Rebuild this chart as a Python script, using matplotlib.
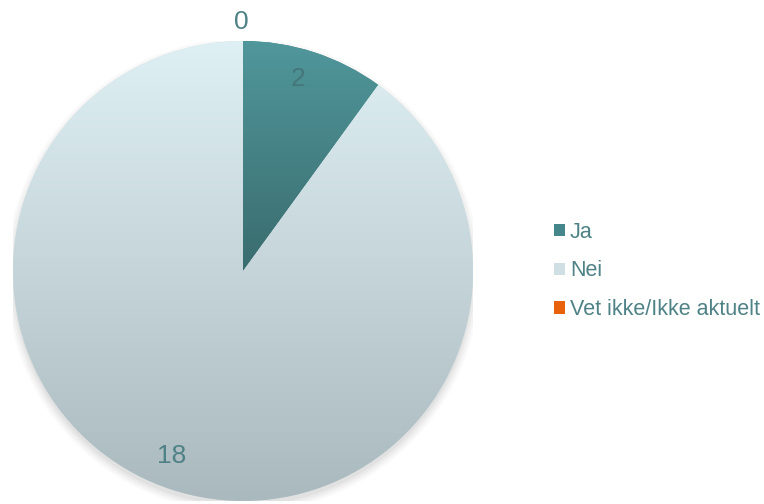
import numpy as np
import matplotlib.pyplot as plt
from matplotlib.patches import Circle, Patch
from matplotlib.colors import LinearSegmentedColormap

plt.rcParams['font.family'] = ['Liberation Sans', 'DejaVu Sans']

categories = ['Ja', 'Nei', 'Vet ikke/Ikke aktuelt']
values = [2, 18, 0]

# top / bottom colour of each slice's vertical gradient
grad_top = ['#50979b', '#dff0f4', '#ff7414']
grad_bot = ['#3a6c6e', '#aab9bd', '#c24a00']
legend_cols = ['#44868a', '#cfdfe3', '#e8620c']
text_col = '#4f8286'

# label placement (radial distance, angle nudge in degrees)
label_dist = [0.87, 0.86, 1.083]
label_nudge = [2, -3, 0.5]

fig = plt.figure(figsize=(7.64, 5.04), dpi=100)
# pie centre at (243, 271) px, radius 230 px
ax = fig.add_axes([13 / 764, 3 / 504, 460 / 764, 460 / 504])
ax.set_xlim(-1, 1)
ax.set_ylim(-1, 1)
ax.axis('off')

# soft shadow under the pie
for i, a in enumerate([0.04, 0.05, 0.06, 0.08]):
    r = 1.0 + 0.01 * (3 - i)
    ax.add_patch(Circle((0.0, -0.02), r, facecolor='#7a7a7a', alpha=a,
                        edgecolor='none', zorder=0))

wedges, _ = ax.pie(values, startangle=90, counterclock=False, radius=1,
                   colors=legend_cols, wedgeprops=dict(edgecolor='none'))
ax.set_aspect('auto')

for w, c1, c2 in zip(wedges, grad_top, grad_bot):
    if w.theta2 - w.theta1 <= 0:
        continue
    bb = w.get_path().get_extents()
    cmap = LinearSegmentedColormap.from_list('g', [c2, c1])
    grad = np.linspace(0, 1, 256).reshape(-1, 1)
    im = ax.imshow(grad, cmap=cmap, origin='lower', aspect='auto',
                   extent=[bb.x0, bb.x1, bb.y0, bb.y1], zorder=3,
                   interpolation='bilinear')
    im.set_clip_path(w)
ax.set_xlim(-1, 1)
ax.set_ylim(-1, 1)

# data labels
for w, v, d, n in zip(wedges, values, label_dist, label_nudge):
    mid = np.deg2rad((w.theta1 + w.theta2) / 2 + n)
    col = '#457679' if v == 2 else text_col
    ax.text(d * np.cos(mid), d * np.sin(mid), str(v), ha='center',
            va='center', fontsize=19, color=col, zorder=5)

handles = [Patch(facecolor=c, edgecolor='none') for c in legend_cols]
leg = fig.legend(handles, categories, loc='center left',
                 bbox_to_anchor=(535 / 764, 233 / 504), frameon=False,
                 fontsize=15.5, labelspacing=0.82, handlelength=0.5,
                 handleheight=0.5, handletextpad=0.22)
for t in leg.get_texts():
    t.set_color(text_col)

fig.savefig('out.png', dpi=100)
